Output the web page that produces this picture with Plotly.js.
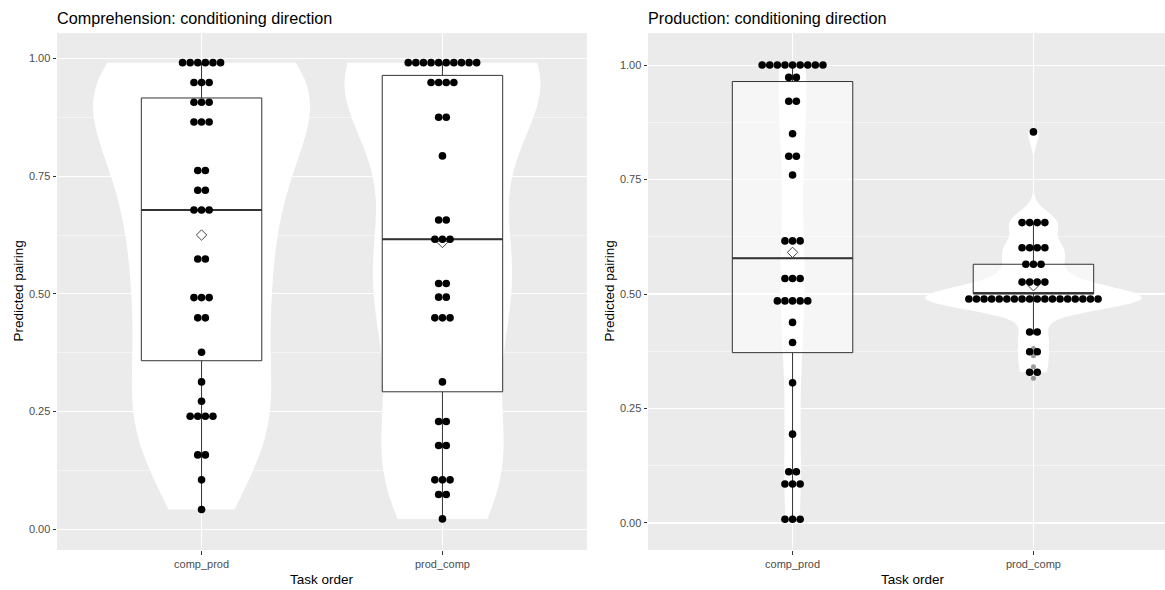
<!DOCTYPE html>
<html><head><meta charset="utf-8">
<script src="https://cdn.plot.ly/plotly-3.0.1.min.js"></script>
<style>html,body{margin:0;padding:0;background:#fff}</style>
</head><body><div id="chart" style="width:1165px;height:590px"></div>
<script>
// ---------------- data ----------------
const categories = ['comp_prod', 'prod_comp'];
const panelTitles = ['Comprehension: conditioning direction', 'Production: conditioning direction'];
const xTitle = 'Task order';
const yTitle = 'Predicted pairing';
const yTickVals = [0, 0.25, 0.5, 0.75, 1];

// Comprehension panel: dot-plot bins (value, count)
const compCP_vals   = [0.991, 0.949, 0.907, 0.865, 0.762, 0.720, 0.678, 0.574, 0.492, 0.449, 0.376, 0.313, 0.272, 0.240, 0.158, 0.105, 0.042];
const compCP_counts = [6, 3, 3, 3, 2, 2, 3, 2, 3, 2, 1, 1, 1, 4, 2, 1, 1];
const compPC_vals   = [0.991, 0.949, 0.875, 0.793, 0.657, 0.616, 0.522, 0.493, 0.449, 0.313, 0.229, 0.178, 0.105, 0.074, 0.022];
const compPC_counts = [10, 4, 2, 1, 2, 3, 2, 2, 3, 1, 2, 2, 3, 2, 1];

// Production panel: dot-plot bins (value, count)
const prodCP_vals   = [1.000, 0.973, 0.921, 0.850, 0.801, 0.760, 0.616, 0.534, 0.485, 0.438, 0.394, 0.306, 0.194, 0.112, 0.085, 0.008];
const prodCP_counts = [9, 2, 2, 1, 2, 1, 3, 3, 5, 1, 1, 1, 1, 2, 3, 3];
const prodPC_vals   = [0.854, 0.656, 0.601, 0.565, 0.526, 0.489, 0.417, 0.374, 0.329];
const prodPC_counts = [1, 4, 4, 3, 4, 18, 2, 2, 2];
const prodPC_outliers = [0.854, 0.381, 0.365, 0.341, 0.316];

// Box statistics per category [comp_prod, prod_comp]
const compLower  = [0.042, 0.022];
const compQ1     = [0.358, 0.292];
const compMedian = [0.678, 0.616];
const compQ3     = [0.916, 0.964];
const compUpper  = [0.991, 0.991];
const compMeans  = [0.625, 0.609];

const prodLower  = [0.008, 0.412];
const prodQ1     = [0.372, 0.501];
const prodMedian = [0.578, 0.501];
const prodQ3     = [0.964, 0.565];
const prodUpper  = [1.000, 0.656];
const prodMeans  = [0.591, 0.518];

// ---------------- layout geometry (pixels) ----------------
const W = 1165, H = 590;
const FONT = 'Liberation Sans, Arial, sans-serif';
const panels = [
  {x0: 57,  x1: 587,  suffix: 'x',  ysuffix: 'y',  ytitleX: 18},
  {x0: 648, x1: 1178, suffix: 'x2', ysuffix: 'y2', ytitleX: 609}
];
const PTOP = 33, PBOT = 550;
const yRanges = [[-0.044, 1.054], [-0.059, 1.070]];
const X_LO = -0.6, X_HI = 1.6;
const DOT_PX = 7.6;
const VIOLIN_MAX_WIDTH = 0.9;

function expand(vals, counts) {
  const out = [];
  vals.forEach((v, i) => { for (let k = 0; k < counts[i]; k++) out.push(v); });
  return out;
}
function quantile(sorted, p) {
  const h = (sorted.length - 1) * p, lo = Math.floor(h), hi = Math.ceil(h);
  return sorted[lo] + (h - lo) * (sorted[hi] - sorted[lo]);
}
function nrd0(arr) {
  const n = arr.length, m = arr.reduce((a, b) => a + b, 0) / n;
  const sd = Math.sqrt(arr.reduce((a, b) => a + (b - m) * (b - m), 0) / (n - 1));
  const s = arr.slice().sort((a, b) => a - b);
  const iqr = quantile(s, 0.75) - quantile(s, 0.25);
  let lo = Math.min(sd, iqr / 1.34);
  if (!(lo > 0)) lo = sd || 1;
  return 0.9 * lo * Math.pow(n, -0.2);
}
// peak of the gaussian KDE over the data span (used for area-scaled violin widths)
function kdePeak(arr, bw) {
  const mn = Math.min(...arr), mx = Math.max(...arr);
  const f = 1 / (arr.length * bw * Math.sqrt(2 * Math.PI));
  let peak = 0;
  for (let s = 0; s <= 600; s++) {
    const x = mn + (mx - mn) * s / 600;
    let sum = 0;
    for (const v of arr) { const u = (x - v) / bw; sum += Math.exp(-0.5 * u * u); }
    peak = Math.max(peak, f * sum);
  }
  return peak;
}

const panelData = [
  {groups: [[compCP_vals, compCP_counts], [compPC_vals, compPC_counts]],
   lower: compLower, q1: compQ1, median: compMedian, q3: compQ3, upper: compUpper, means: compMeans, outliers: [[], []]},
  {groups: [[prodCP_vals, prodCP_counts], [prodPC_vals, prodPC_counts]],
   lower: prodLower, q1: prodQ1, median: prodMedian, q3: prodQ3, upper: prodUpper, means: prodMeans, outliers: [[], prodPC_outliers]}
];

const traces = [];
panelData.forEach((pd, p) => {
  const P = panels[p];
  const xa = P.suffix, ya = P.ysuffix;
  const pxPerUnit = (P.x1 - P.x0) / (X_HI - X_LO);
  const spacing = DOT_PX / pxPerUnit;
  // violins (area-scaled within the panel)
  const raws = pd.groups.map(g => expand(g[0], g[1]));
  const bws = raws.map(nrd0);
  const peaks = raws.map((r, i) => kdePeak(r, bws[i]));
  const maxPeak = Math.max(...peaks);
  raws.forEach((raw, i) => {
    traces.push({type: 'violin', x0: i, y: raw, xaxis: xa, yaxis: ya,
      width: VIOLIN_MAX_WIDTH * peaks[i] / maxPeak,
      scalegroup: 'v' + p + '_' + i, scalemode: 'width', spanmode: 'hard', bandwidth: bws[i],
      fillcolor: '#FFFFFF', line: {color: '#FFFFFF', width: 0}, points: false,
      box: {visible: false}, meanline: {visible: false}, hoverinfo: 'skip', showlegend: false});
  });
  // boxes
  traces.push({type: 'box', x: [0, 1], xaxis: xa, yaxis: ya,
    q1: pd.q1, median: pd.median, q3: pd.q3, lowerfence: pd.lower, upperfence: pd.upper,
    width: 0.5, whiskerwidth: 0, boxpoints: false, fillcolor: 'rgba(255,255,255,0.55)',
    line: {color: '#333333', width: 1}, hoverinfo: 'skip', showlegend: false});
  // thick median lines
  [0, 1].forEach(i => {
    traces.push({type: 'scatter', mode: 'lines', xaxis: xa, yaxis: ya,
      x: [i - 0.25, i + 0.25], y: [pd.median[i], pd.median[i]],
      line: {color: '#333333', width: 2}, hoverinfo: 'skip', showlegend: false});
  });
  // outliers
  [0, 1].forEach(i => {
    if (!pd.outliers[i].length) return;
    traces.push({type: 'scatter', mode: 'markers', xaxis: xa, yaxis: ya,
      x: pd.outliers[i].map(() => i), y: pd.outliers[i],
      marker: {color: 'rgba(90,90,90,0.6)', size: 5}, hoverinfo: 'skip', showlegend: false});
  });
  // means
  traces.push({type: 'scatter', mode: 'markers', xaxis: xa, yaxis: ya, x: [0, 1], y: pd.means,
    marker: {symbol: 'diamond-open', size: 8, color: '#444444', line: {width: 1, color: '#444444'}},
    hoverinfo: 'skip', showlegend: false});
  // dots
  pd.groups.forEach((g, i) => {
    const xs = [], ys = [];
    g[0].forEach((v, k) => {
      const c = g[1][k];
      for (let j = 0; j < c; j++) { xs.push(i + (j - (c - 1) / 2) * spacing); ys.push(v); }
    });
    traces.push({type: 'scatter', mode: 'markers', xaxis: xa, yaxis: ya, x: xs, y: ys,
      marker: {color: '#000000', size: DOT_PX, line: {width: 0}}, hoverinfo: 'skip', showlegend: false});
  });
});

const yDom = [(H - PBOT) / H, (H - PTOP) / H];
function xAxis(p) {
  const P = panels[p];
  const pxPerUnit = (P.x1 - P.x0) / (X_HI - X_LO);
  const right = Math.min(P.x1, W);
  const hi = X_HI - (P.x1 - right) / pxPerUnit;
  return {domain: [P.x0 / W, right / W], range: [X_LO, hi], type: 'linear', anchor: p === 1 ? 'y2' : 'y',
    tickmode: 'array', tickvals: [0, 1], ticktext: categories,
    showgrid: true, gridcolor: '#FFFFFF', gridwidth: 1.1, zeroline: false, showline: false,
    ticks: 'outside', ticklen: 3.5, tickwidth: 1, tickcolor: '#333333',
    tickfont: {family: FONT, size: 11, color: '#4D4D4D'}, fixedrange: true, automargin: false};
}
function yAxis(p) {
  return {domain: yDom, range: yRanges[p], type: 'linear', anchor: p === 1 ? 'x2' : 'x',
    tickmode: 'array', tickvals: yTickVals, tickformat: '.2f',
    minor: {tickmode: 'linear', tick0: 0, dtick: 0.125, showgrid: true, gridcolor: '#FFFFFF', gridwidth: 0.5, ticks: ''},
    showgrid: true, gridcolor: '#FFFFFF', gridwidth: 1.1, zeroline: false, showline: false,
    ticks: 'outside', ticklen: 3.5, tickwidth: 1, tickcolor: '#333333',
    tickfont: {family: FONT, size: 11, color: '#4D4D4D'}, fixedrange: true, automargin: false};
}

const annotations = [];
panels.forEach((P, p) => {
  annotations.push({xref: 'paper', yref: 'paper', x: P.x0 / W, xshift: -2, y: (H - 18) / H, xanchor: 'left', yanchor: 'middle',
    text: panelTitles[p], showarrow: false, font: {family: FONT, size: 16.2, color: '#000000'}});
  annotations.push({xref: 'paper', yref: 'paper', x: (P.x0 + P.x1) / 2 / W, y: (H - 579) / H, xanchor: 'center', yanchor: 'middle',
    text: xTitle, showarrow: false, font: {family: FONT, size: 13.5, color: '#000000'}});
  annotations.push({xref: 'paper', yref: 'paper', x: P.ytitleX / W, y: (H - (PTOP + PBOT) / 2) / H, xanchor: 'center', yanchor: 'middle',
    text: yTitle, textangle: -90, showarrow: false, font: {family: FONT, size: 13.5, color: '#000000'}});
});

const layout = {
  width: W, height: H, margin: {l: 0, r: 0, t: 0, b: 0},
  paper_bgcolor: '#FFFFFF', plot_bgcolor: '#EBEBEB',
  showlegend: false, violinmode: 'overlay', boxmode: 'overlay',
  xaxis: xAxis(0), yaxis: yAxis(0), xaxis2: xAxis(1), yaxis2: yAxis(1),
  annotations: annotations, font: {family: FONT}
};

Plotly.newPlot('chart', traces, layout, {displayModeBar: false, staticPlot: true});
</script></body></html>
